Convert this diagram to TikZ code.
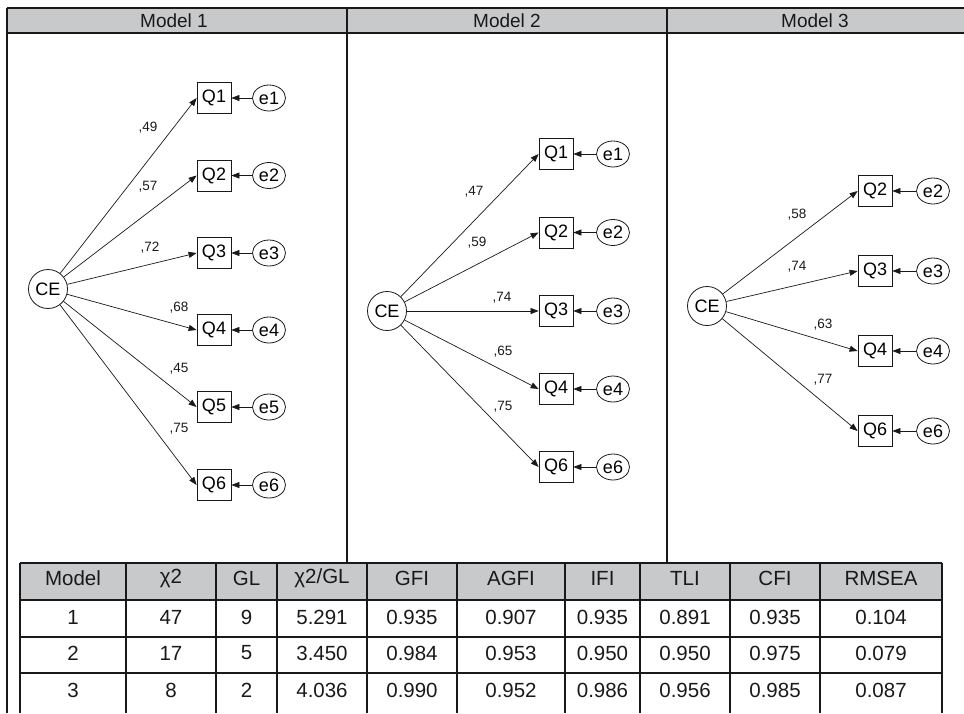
\documentclass[tikz,border=0pt]{standalone}
\usepackage{fontspec}
\setmainfont{Liberation Sans}
\usetikzlibrary{arrows.meta,shapes.geometric}
\definecolor{hdr}{RGB}{200,201,203}
\definecolor{ink}{RGB}{25,25,25}
\begin{document}
\begin{tikzpicture}[x=1pt,y=-1pt,
  lat/.style={circle,draw=ink,line width=0.8pt,minimum size=39pt,inner sep=0pt,font=\fontsize{18}{18}\selectfont},
  obs/.style={rectangle,draw=ink,line width=0.8pt,minimum width=34pt,minimum height=31pt,inner sep=0pt,font=\fontsize{18}{18}\selectfont},
  err/.style={ellipse,draw=ink,line width=0.8pt,minimum width=33pt,minimum height=26pt,inner sep=0pt,font=\fontsize{18}{18}\selectfont},
  ld/.style={draw=ink,line width=0.7pt,-{Triangle[length=8pt,width=6pt]}},
  coef/.style={font=\fontsize{13.5}{13.5}\selectfont,inner sep=0pt,text=ink},
  frm/.style={line width=2pt,draw=ink},
  cell/.style={font=\fontsize{20.5}{20.5}\selectfont,inner sep=0pt,text=ink},
  ttl/.style={font=\fontsize{19}{19}\selectfont,inner sep=0pt,text=ink}]
\useasboundingbox (0,0) rectangle (964,713);
% fills
\fill[hdr] (7,8) rectangle (964,33);
\fill[hdr] (20,563) rectangle (942,600);
% frame lines
\draw[frm] (7,8) -- (964,8);
\draw[frm] (7,33) -- (964,33);
\draw[frm] (7,8) -- (7,713);
\draw[frm] (347,8) -- (347,563);
\draw[frm] (667,8) -- (667,563);
% titles
\node[ttl] (t1) at (174,20.5) {Model 1};
\node[ttl] (t2) at (507,20.5) {Model 2};
\node[ttl] (t3) at (815,20.5) {Model 3};

% ---------- Model 1
\node[lat] (a-CE) at (48,289) {CE};
\foreach \n/\y in {1/98,2/175.5,3/253,4/330,5/407,6/485}{
  \node[obs] (a-Q\n) at (214,\y) {Q\n};
  \node[err] (a-e\n) at (269,\y) {e\n};
  \draw[ld] (a-e\n) -- (a-Q\n);
  \draw[ld] (a-CE) -- (a-Q\n.west);
}
\node[coef] (a-c1) at (148,128) {,49};
\node[coef] (a-c2) at (148,187) {,57};
\node[coef] (a-c3) at (150,248) {,72};
\node[coef] (a-c4) at (179,308) {,68};
\node[coef] (a-c5) at (179,369) {,45};
\node[coef] (a-c6) at (179,429) {,75};

% ---------- Model 2
\node[lat] (b-CE) at (387,311) {CE};
\foreach \n/\y in {1/154,2/232.5,3/311,4/389,6/467}{
  \node[obs] (b-Q\n) at (556,\y) {Q\n};
  \node[err] (b-e\n) at (613,\y) {e\n};
  \draw[ld] (b-e\n) -- (b-Q\n);
  \draw[ld] (b-CE) -- (b-Q\n.west);
}
\node[coef] (b-c1) at (474,192) {,47};
\node[coef] (b-c2) at (477,243) {,59};
\node[coef] (b-c3) at (502,298) {,74};
\node[coef] (b-c4) at (503,352) {,65};
\node[coef] (b-c6) at (503,407) {,75};

% ---------- Model 3
\node[lat] (c-CE) at (707,306) {CE};
\foreach \n/\y in {2/191,3/271,4/351,6/431}{
  \node[obs] (c-Q\n) at (875,\y) {Q\n};
  \node[err] (c-e\n) at (933,\y) {e\n};
  \draw[ld] (c-e\n) -- (c-Q\n);
  \draw[ld] (c-CE) -- (c-Q\n.west);
}
\node[coef] (c-c2) at (797,215) {,58};
\node[coef] (c-c3) at (797,267) {,74};
\node[coef] (c-c4) at (823,325) {,63};
\node[coef] (c-c6) at (823,380) {,77};

% ---------- table
\foreach \y in {563,600,637,673}{ \draw[frm] (20,\y) -- (942,\y); }
\foreach \x in {20,126,216,277,367,457,565,640,730,820,942}{ \draw[frm] (\x,563) -- (\x,713); }
\def\colx{{73,171,246.5,322,412,511,602.5,685,775,881}}
\foreach \t [count=\c] in {Model,χ2,GL,χ2/GL,GFI,AGFI,IFI,TLI,CFI,RMSEA}{
  \pgfmathsetmacro\xx{\colx[\c-1]}
  \node[cell] (h\c) at (\xx,578) {\t};
}
\def\rowa{1,47,9,5.291,0.935,0.907,0.935,0.891,0.935,0.104}
\def\rowb{2,17,5,3.450,0.984,0.953,0.950,0.950,0.975,0.079}
\def\rowc{3,8,2,4.036,0.990,0.952,0.986,0.956,0.985,0.087}
\foreach \v [count=\c] in \rowa{ \pgfmathsetmacro\xx{\colx[\c-1]} \node[cell] (ra\c) at (\xx,617) {\v}; }
\foreach \v [count=\c] in \rowb{ \pgfmathsetmacro\xx{\colx[\c-1]} \node[cell] (rb\c) at (\xx,653) {\v}; }
\foreach \v [count=\c] in \rowc{ \pgfmathsetmacro\xx{\colx[\c-1]} \node[cell] (rc\c) at (\xx,690) {\v}; }
\end{tikzpicture}
\end{document}
